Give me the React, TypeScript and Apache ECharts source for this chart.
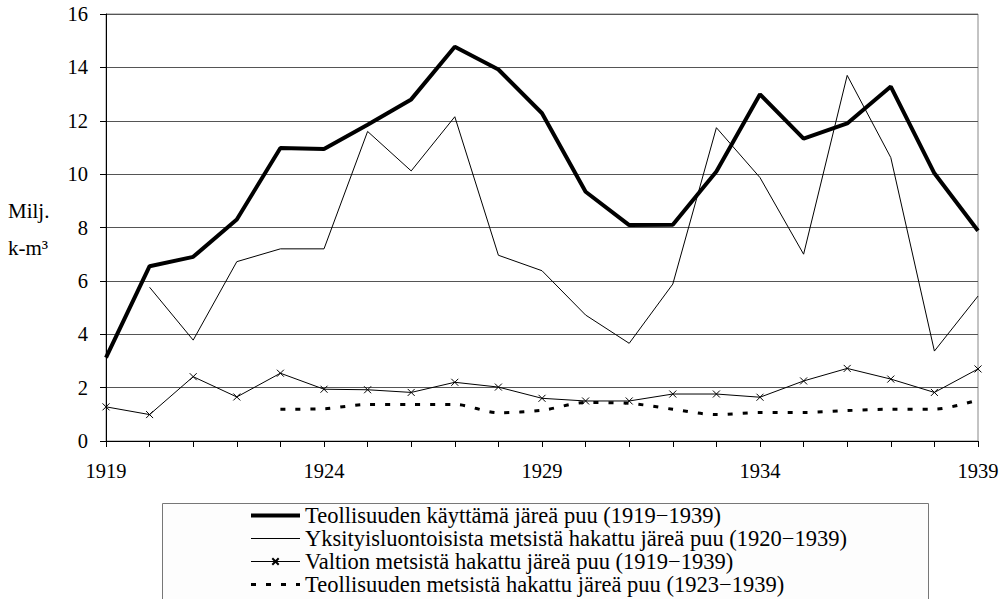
import React, { useEffect, useRef } from "react";
import * as echarts from "echarts";

const years = ["1919","1920","1921","1922","1923","1924","1925","1926","1927","1928","1929","1930","1931","1932","1933","1934","1935","1936","1937","1938","1939"];
const teollisuudenKayttama = [3.12, 6.55, 6.9, 8.3, 10.98, 10.94, 11.85, 12.8, 14.77, 13.92, 12.28, 9.34, 8.09, 8.1, 10.1, 12.99, 11.33, 11.9, 13.28, 10.03, 7.88];
const yksityis = [null, 5.76, 3.78, 6.72, 7.2, 7.2, 11.6, 10.12, 12.15, 6.96, 6.38, 4.72, 3.66, 5.88, 11.74, 9.87, 7.0, 13.7, 10.62, 3.37, 5.43];
const valtion = [1.28, 0.99, 2.41, 1.65, 2.54, 1.94, 1.92, 1.82, 2.2, 2.02, 1.6, 1.5, 1.5, 1.76, 1.76, 1.64, 2.25, 2.72, 2.32, 1.82, 2.7];
const teollisuudenMetsista = [null, null, null, null, 1.19, 1.21, 1.37, 1.37, 1.37, 1.06, 1.15, 1.44, 1.41, 1.19, 0.99, 1.07, 1.07, 1.14, 1.19, 1.19, 1.54];
const yTicks = [0, 2, 4, 6, 8, 10, 12, 14, 16];
const seriesNames = [
  "Teollisuuden käyttämä järeä puu (1919−1939)",
  "Yksityisluontoisista metsistä hakattu järeä puu (1920−1939)",
  "Valtion metsistä hakattu järeä puu (1919−1939)",
  "Teollisuuden metsistä hakattu järeä puu (1923−1939)",
];

const FONT = "'Liberation Serif', 'Times New Roman', serif";
const hidden = { color: "rgba(0,0,0,0)", opacity: 0, borderWidth: 0 };

export default function App() {
  const ref = useRef<HTMLDivElement>(null);
  useEffect(() => {
    if (!ref.current) return;
    const chart = echarts.init(ref.current, null, { renderer: "svg" });
    chart.setOption({
      animation: false,
      backgroundColor: "#fff",
      textStyle: { fontFamily: FONT, color: "#000" },
      grid: {
        left: 106, top: 14, right: 30, bottom: 158,
        show: true, borderColor: "#888", borderWidth: 1,
      },
      xAxis: {
        type: "category",
        data: years,
        boundaryGap: false,
        axisLine: { lineStyle: { color: "#000", width: 1 } },
        axisTick: { show: true, interval: 0, length: 6, inside: false, lineStyle: { color: "#000" } },
        axisLabel: { interval: 4, margin: 19, fontSize: 20.5, fontFamily: FONT, color: "#000" },
        splitLine: { show: false },
      },
      yAxis: {
        type: "value",
        min: yTicks[0],
        max: yTicks[yTicks.length - 1],
        interval: 2,
        axisLine: { show: true, lineStyle: { color: "#000", width: 1 } },
        axisTick: { show: true, length: 6, lineStyle: { color: "#000" } },
        axisLabel: { margin: 18, fontSize: 20.5, fontFamily: FONT, color: "#000" },
        splitLine: { show: true, lineStyle: { color: "#555", width: 1 } },
      },
      legend: {
        orient: "vertical",
        left: 249,
        top: 504,
        padding: 0,
        itemWidth: 49,
        itemHeight: 8,
        itemGap: 0,
        height: 100,
        textStyle: { fontSize: 22.5, lineHeight: 23, fontFamily: FONT, color: "#000" },
        data: [
          { name: seriesNames[0], itemStyle: hidden, lineStyle: { color: "#000", width: 4 } },
          { name: seriesNames[1], itemStyle: hidden, lineStyle: { color: "#000", width: 1 } },
          { name: seriesNames[2], lineStyle: { color: "#000", width: 1 } },
          { name: seriesNames[3], itemStyle: hidden, lineStyle: { color: "#000", width: 3, type: [5, 10] } },
        ],
      },
      graphic: [
        {
          type: "rect", left: 162, top: 503, z: -1,
          shape: { width: 766, height: 120 },
          style: { fill: "#fdfdfd", stroke: "#777", lineWidth: 1 },
        },
        { type: "text", x: 8, y: 211, style: { text: "Milj.", font: `21px ${FONT}`, fill: "#000", verticalAlign: "middle" } },
        { type: "text", x: 8, y: 248, style: { text: "k-m³", font: `21px ${FONT}`, fill: "#000", verticalAlign: "middle" } },
      ],
      series: [
        {
          name: seriesNames[0], type: "line", data: teollisuudenKayttama,
          symbol: "none", lineStyle: { color: "#000", width: 4 }, itemStyle: { color: "#000" }, z: 5,
        },
        {
          name: seriesNames[1], type: "line", data: yksityis,
          symbol: "none", lineStyle: { color: "#000", width: 1 }, itemStyle: { color: "#000" }, z: 4,
        },
        {
          name: seriesNames[2], type: "line", data: valtion,
          symbol: "path://M0,0L10,10M10,0L0,10", symbolSize: 7,
          lineStyle: { color: "#000", width: 1 },
          itemStyle: { color: "#000", borderColor: "#000", borderWidth: 1 }, z: 4,
        },
        {
          name: seriesNames[3], type: "line", data: teollisuudenMetsista,
          symbol: "none", smooth: 0.3,
          lineStyle: { color: "#000", width: 3, type: [5, 10] }, itemStyle: { color: "#000" }, z: 3,
        },
      ],
    });
    return () => chart.dispose();
  }, []);
  return <div ref={ref} style={{ position: "fixed", left: 0, top: 0, width: 1008, height: 599 }} />;
}
